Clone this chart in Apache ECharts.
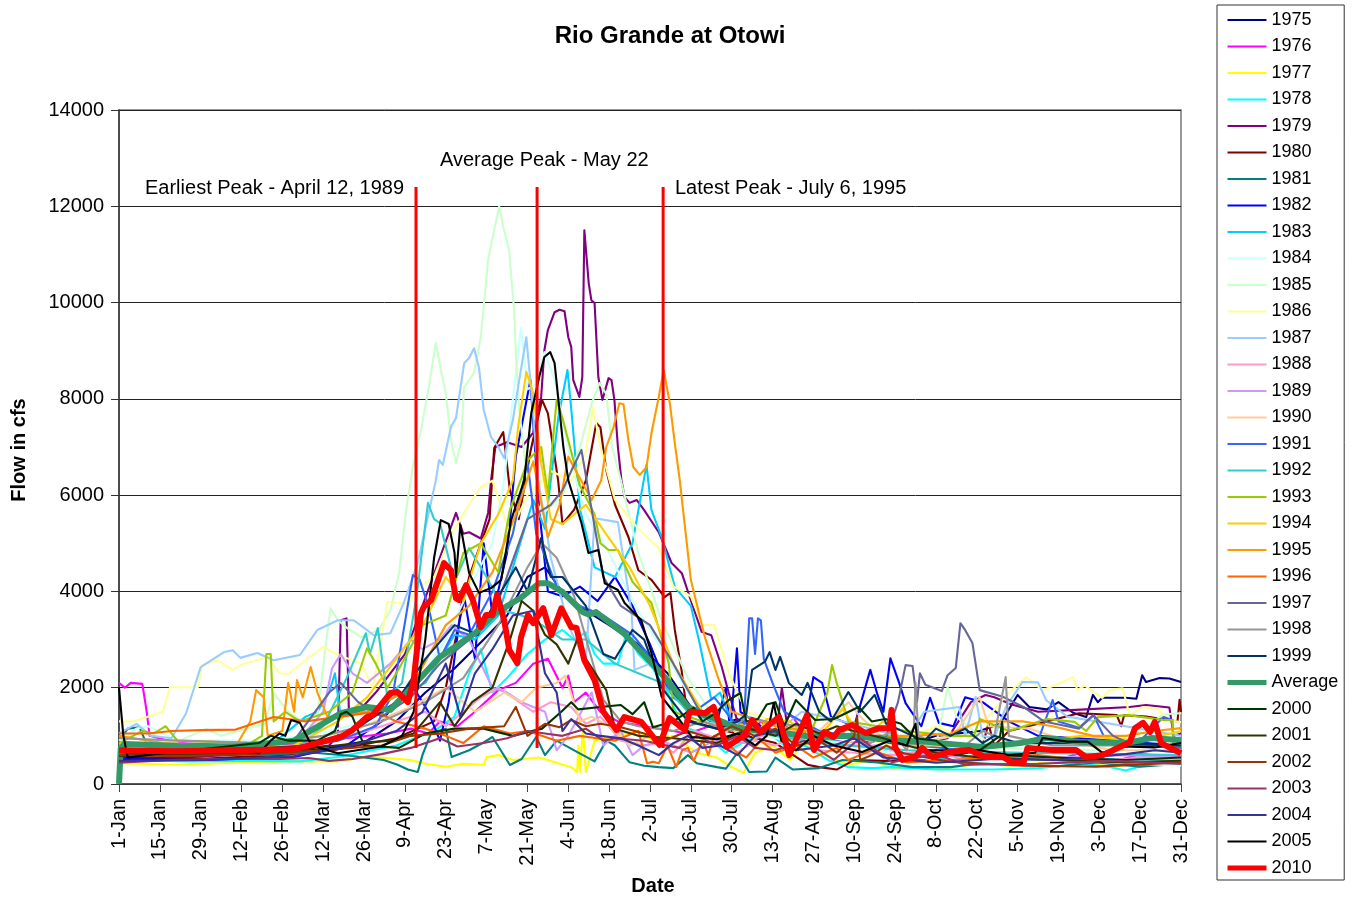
<!DOCTYPE html>
<html><head><meta charset="utf-8">
<script src="https://cdn.jsdelivr.net/npm/echarts@6/dist/echarts.min.js"></script>
<style>html,body{margin:0;background:#fff}#c{width:1353px;height:897px}</style></head>
<body><div id="c"></div>
<script>
const dateLabels=['1-Jan','15-Jan','29-Jan','12-Feb','26-Feb','12-Mar','26-Mar','9-Apr','23-Apr','7-May','21-May','4-Jun','18-Jun','2-Jul','16-Jul','30-Jul','13-Aug','27-Aug','10-Sep','24-Sep','8-Oct','22-Oct','5-Nov','19-Nov','3-Dec','17-Dec','31-Dec'];
const names=['1975','1976','1977','1978','1979','1980','1981','1982','1983','1984','1985','1986','1987','1988','1989','1990','1991','1992','1993','1994','1995','1996','1997','1998','1999','Average','2000','2001','2002','2003','2004','2005','2010'];
const colors=['#000080','#ff00ff','#ffff00','#00ffff','#800080','#800000','#008080','#0000ff','#00ccff','#ccffff','#ccffcc','#ffff99','#99ccff','#ff99cc','#cc99ff','#ffcc99','#3366ff','#33cccc','#99cc00','#ffcc00','#ff9900','#ff6600','#666699','#969696','#003366','#339966','#003300','#333300','#993300','#993366','#333399','#000000','#ff0000'];
const peakDays=[101.8,143.3,186.5];
// each series: [day of year, flow in cfs]
const s1975=[[0,650],[15,620],[30,600],[50,640],[70,720],[85,900],[95,1300],[105,1900],[115,2400],[125,3000],[133,3500],[140,4300],[146,4500],[153,3900],[160,3600],[168,3300],[178,2900],[188,2300],[196,1600],[205,1200],[212,1350],[220,1000],[228,1150],[240,900],[248,1050],[260,900],[270,800],[280,1000],[295,1100],[302,1250],[308,1850],[312,1600],[318,1550],[322,1700],[327,1480],[331.5,1390],[333.8,1850],[335.5,1700],[337,1790],[345,1790],[348.7,1770],[350.7,2260],[352,2120],[356.7,2200],[360,2190],[364,2120]];
const s1976=[[0,2100],[2,2000],[4,2100],[8,2080],[9.5,1500],[10.5,1000],[20,850],[40,800],[60,820],[78,950],[92,1050],[100,1150],[106,1050],[110,1300],[116,1200],[122,1500],[130,1950],[136,2100],[142,2500],[147,2600],[152,2000],[154,2250],[156,1700],[160,1900],[165,1500],[171,1300],[180,1200],[195,1050],[205,1250],[215,950],[220,1300],[226,1000],[230,1450],[236,1000],[250,850],[262,900],[270,600],[280,700],[290,550],[300,650],[310,600],[320,480],[330,650],[340,450],[350,620],[364,560]];
const s1977=[[0,430],[20,400],[40,440],[60,470],[75,470],[85,560],[92,540],[100,500],[105,420],[112,360],[118,420],[125,400],[126,560],[130,600],[135,500],[144,550],[155,350],[157,250],[157.5,800],[158,250],[159,1150],[160,250],[163,900],[170,1000],[178,1100],[183,900],[190,1000],[198,650],[205,550],[210,350],[214,230],[218,650],[224,800],[230,500],[235,850],[242,600],[250,400],[258,500],[265,330],[275,350],[285,340],[295,420],[305,380],[318,450],[330,450],[340,360],[350,430],[364,400]];
const s1978=[[0,500],[25,470],[45,480],[62,470],[75,560],[85,680],[95,800],[108,1100],[115,1400],[120,2300],[124,2800],[128,1900],[133,2200],[140,2700],[146,3000],[152,3200],[156,3000],[160,3150],[163,2700],[166,2500],[171,2500],[174,3150],[178,2700],[183,2400],[188,1900],[193,1200],[200,1050],[208,650],[215,900],[222,1100],[228,800],[235,800],[243,500],[250,350],[258,330],[265,350],[280,300],[300,300],[315,330],[330,420],[340,350],[345,280],[355,450],[364,500]];
const s1979=[[0,520],[25,560],[50,640],[72,800],[75,1000],[76,3400],[78,3440],[78.8,1500],[82,1500],[88,1900],[98,2700],[110,4700],[115.5,5630],[118,5200],[120,5230],[124,5100],[126.5,5630],[127.5,6300],[129,7000],[133,7100],[138,7000],[142,7300],[144.7,8040],[145.8,9010],[147,9430],[149.3,9800],[151,9850],[152.7,9820],[154,9280],[155,9080],[155.7,8390],[157.8,8040],[158.8,8450],[159.5,11500],[160,11500],[161,10400],[161.9,10050],[163,9990],[164.3,8450],[165.7,7980],[167.8,8430],[168.8,8390],[169.8,7980],[171,7000],[172.2,6310],[173.3,5960],[175,5840],[177.4,5900],[180,5690],[185,5230],[189.4,4590],[192.9,4380],[196.3,3760],[199.7,3160],[203,3090],[206.6,2430],[209,1890],[212,1300],[222,1150],[226,1400],[227.2,2000],[229,1200],[250,950],[270,800],[284,950],[292,1700],[297,1850],[300,1800],[306,1650],[315,1500],[328,1540],[346.4,1600],[352,1640],[360,1590],[361.5,1000],[364,1050]];
const s1980=[[0,550],[30,530],[55,600],[75,720],[95,950],[108,1300],[112,2000],[116,3200],[120,4300],[124,5000],[127,5500],[128.6,6980],[131.7,7310],[134,6100],[137,5500],[141,6900],[145,7980],[147,7700],[148.8,7000],[150.5,6310],[152,5400],[156,5700],[160,6300],[163.6,7500],[165,7410],[167,6520],[170,5800],[174.6,5130],[178,4440],[182.5,4240],[187,3880],[189,3970],[190.5,3200],[192.8,2370],[195,1330],[205,1150],[225,850],[236,400],[240,350],[246,300],[252,500],[262,480],[280,500],[296,800],[298,1250],[300,800],[305,1100],[315,1250],[329,1470],[342,1430],[343.5,1200],[344.5,1430],[352,1400],[360,1330],[362.8,1300],[363.5,1750],[364,1500]];
const s1981=[[0,900],[3,1150],[7,1180],[10,750],[30,650],[50,600],[65,660],[80,580],[90.7,500],[95.5,400],[99,300],[102.4,250],[104,600],[107,1060],[112,1150],[114,560],[120,700],[124,830],[128,976],[134,395],[138,520],[143,976],[146,600],[150,900],[156,700],[163,470],[167,900],[170,800],[175,450],[180,380],[185,350],[190,330],[195,600],[198,430],[205,350],[208,320],[212,650],[216,250],[222,260],[225,550],[231,300],[240,330],[248,500],[260,450],[272,350],[285,350],[295,430],[310,400],[322,370],[335,450],[350,360],[364,420]];
const s1982=[[0,520],[30,500],[60,560],[78,800],[90,1300],[100,2100],[106,1500],[110,900],[113,1700],[118,4000],[122,2600],[125,5000],[128,3500],[133,4800],[136,6800],[141,8390],[144,5700],[147,4000],[152,3900],[158,4100],[164,3800],[170,4300],[176,3700],[182,2900],[188,2000],[196,1500],[205,1300],[208,2000],[209.5,1100],[211.8,2820],[213,1500],[220,1200],[232,900],[236,1500],[238,2220],[241,2100],[244,1400],[252,1200],[257.5,2370],[260,1850],[262,1500],[264.4,2610],[267.4,2100],[269.6,1680],[275,1200],[278,1790],[281,1270],[286,1200],[290,1800],[296,1700],[305,1300],[315,1000],[340,900],[364,800]];
const s1983=[[0,700],[20,680],[50,700],[64,1400],[68,1500],[72,1900],[74,2300],[76,1400],[85,1500],[96,1850],[105,2100],[115,3100],[122,3000],[130,3500],[136,4700],[142,5900],[146,5300],[150.6,7620],[153.7,8600],[155,7800],[158,5700],[163,4500],[170,4300],[176,5000],[180.8,6630],[182.5,5690],[186,5130],[190.5,4090],[196,3700],[199,2930],[203,1750],[206,1900],[210,1300],[225,1100],[245,900],[265,650],[285,500],[310,550],[340,520],[364,500]];
const s1984=[[0,900],[6,1150],[10,1200],[20,900],[45,900],[65,1000],[85,1300],[100,1900],[112,3000],[122,4300],[128,5000],[132,6310],[135,8000],[137.8,9470],[140,8200],[143,8300],[145.8,8970],[149.3,8390],[155,6670],[160,5600],[168,4800],[176,3800],[185,2900],[195,1900],[205,1200],[225,950],[250,800],[280,500],[300,450],[325,500],[345,430],[364,380]];
const s1985=[[0,850],[20,880],[30,1150],[35,1000],[50,1250],[53,1890],[58,1500],[63,1300],[68,1450],[70.8,2850],[72.5,3650],[75,3400],[78,3250],[83,3050],[89,3200],[93,3600],[96,4380],[98.4,5690],[100.7,6580],[103.5,7350],[106.2,8250],[108.6,9160],[110.3,8600],[112,8120],[113.8,7150],[115.5,6670],[117.2,7080],[118.3,8250],[119.6,8350],[121.7,8540],[124,9280],[126.5,10880],[128.2,11400],[130.3,12000],[132,11500],[133.7,11090],[135.5,9780],[136,8950],[137.3,7700],[140,6310],[145,5600],[152,6000],[158,7000],[162,7900],[164.7,8330],[167,8100],[169,7000],[172,6310],[178,4800],[186,3400],[195,2200],[205,1300],[220,1000],[250,850],[270,700],[280,800],[284,2010],[287,1400],[300,750],[335,700],[350,1100],[358,1450],[364,1470]];
const s1986=[[0,1300],[5,1300],[15,1500],[17.5,2010],[27,2010],[28.5,2470],[33.7,2570],[39,2370],[42,2480],[51,2640],[55,2300],[58,2280],[61,2430],[70,2850],[75,2680],[83,2510],[87,2000],[90.8,3340],[92,3780],[99,3750],[103,4100],[108,4300],[114,5200],[120,5800],[124,6170],[128,6300],[134,5200],[140,6000],[148,6500],[155,6300],[160,6900],[162.5,7830],[165,7000],[170,5900],[178,5300],[185,4900],[190,4100],[196,3900],[200,3300],[204,3300],[209,2300],[215,1500],[230,1200],[250,1000],[265,800],[280,1200],[286,1050],[298,1400],[305,1900],[311,2220],[316.6,1950],[323.5,2120],[327,2220],[328.5,1950],[331,2050],[337,1790],[339.5,1950],[344,1990],[346.4,1430],[351,1600],[356,1560],[360,1330],[364,1280]];
const s1987=[[0,1050],[6,1250],[11,1000],[18,950],[23,1470],[28,2430],[36,2740],[39,2780],[41.6,2620],[47.4,2720],[53,2570],[62,2680],[68,3200],[75,3400],[80.5,3400],[87.4,3090],[93,3130],[97.6,3760],[102.4,4590],[108.6,6310],[109.7,6730],[111,6630],[113.8,7420],[115.5,7600],[118.3,8740],[120,8850],[121.7,9050],[123.4,8640],[125,7770],[127.5,7210],[130,7000],[132,6770],[135,7560],[136.8,8250],[139.6,9280],[141.3,8180],[143.7,6310],[148,4700],[154,3300],[160,2500],[163,5520],[171,5440],[175.7,3550],[176.7,2370],[182,2500],[190,2000],[200,1300],[225,1050],[234,1500],[245,1350],[270,950],[276,1500],[288,1600],[290,1000],[293.6,1810],[296,1000],[300,950],[304,1600],[309.7,2120],[315,2110],[317.8,1740],[325,1400],[345,1200],[364,1000]];
const s1988=[[0,800],[25,780],[60,800],[80,1000],[95,1300],[105,1500],[112,1200],[118,1500],[124,1800],[130,2000],[136,1750],[142,1500],[148,1700],[155,1600],[160,1250],[165,1400],[172,900],[180,800],[186,850],[190,650],[197,1100],[205,950],[212,650],[218,900],[225,800],[232,1000],[240,700],[252,650],[265,600],[278,700],[290,500],[310,600],[330,450],[350,550],[364,500]];
const s1989=[[0,700],[30,680],[60,800],[70,1500],[73,2400],[76,2700],[80,2300],[85,2100],[93,2500],[100,3000],[104,2800],[110,3000],[114,3300],[120,3000],[128,2000],[133,1900],[138,1700],[146,1500],[150,700],[154,1000],[158,1450],[162,1900],[166,800],[172,1100],[176,600],[180,800],[186,900],[196,650],[204,900],[215,850],[224,1100],[235,1000],[246,800],[260,800],[270,600],[285,600],[300,520],[320,550],[345,600],[364,550]];
const s1990=[[0,850],[30,800],[60,900],[80,1100],[100,1600],[112,2000],[122,1500],[132,1900],[138,1700],[143,2000],[150,2100],[153,2250],[158,1300],[162,1400],[168,1200],[175,800],[182,1000],[188,750],[195,1000],[202,900],[210,1150],[216,800],[222,1300],[230,1100],[240,1100],[250,1700],[254,1400],[261,1000],[268,800],[278,900],[286,1000],[295,1800],[298,1200],[312,1150],[325,900],[340,700],[364,700]];
const s1991=[[0,650],[25,620],[55,700],[75,900],[88,1200],[94,1900],[100.7,4340],[103,4250],[106,3700],[110,2600],[115,3200],[120,3100],[128,4000],[135,5200],[140,6700],[143,5200],[150,4100],[158,3700],[166,3500],[176,3100],[184,2500],[190,1800],[197,1500],[204,1800],[208,1500],[214,1000],[216,3440],[217,3440],[218,2700],[219,3440],[220,3400],[221,2600],[224,2100],[228,1500],[240,1100],[265,850],[290,700],[315,900],[320,1745],[322,1300],[329,1170],[334,1430],[337.5,1000],[341,800],[350,900],[358,1390],[361,1330],[361.5,770],[364,800]];
const s1992=[[0,650],[30,620],[62,800],[70,1200],[78,2200],[84.6,3130],[86,2700],[88.7,3240],[92,1800],[97,2100],[102,3900],[105.9,5840],[108,5500],[110,5420],[115,4200],[120,4900],[126,4300],[132,3600],[138,3500],[145,3300],[152,3000],[160,3000],[170,2500],[178,2300],[186,2100],[195,1500],[210,1150],[240,850],[270,700],[310,650],[364,600]];
const s1993=[[0,850],[8,1100],[12,1050],[16,1200],[20,900],[45,850],[49,1000],[50.5,2700],[52,2700],[53,1300],[57,1500],[62,1300],[72,1500],[80,1900],[85,2820],[88,2500],[92,2000],[96,2400],[104,3300],[112,3500],[118,4800],[124,5000],[130,4400],[134,5700],[140.2,6730],[144.7,7000],[147,6000],[150,7980],[152,7600],[158,6200],[163,5600],[165,5000],[167.8,4860],[171,4860],[176,4200],[182.5,3760],[188.4,2510],[190,1500],[205,1200],[225,1100],[238,1200],[242.8,1900],[244.4,2470],[246,2100],[250,1300],[270,1100],[285,1000],[293,1000],[295,1350],[305,1100],[318,1350],[327.5,1290],[331.5,1100],[335.5,1390],[346,1430],[358,1330],[361,1330],[361.5,850],[364,800]];
const s1994=[[0,750],[30,720],[60,800],[75,1300],[85,1800],[95,2600],[105,3400],[112,4300],[118,3800],[124,5000],[130,5600],[135,6310],[136.8,7420],[139.6,8560],[142,8120],[144.7,6670],[148,5500],[152,5400],[160,5800],[168,5100],[175,4500],[182,3700],[190,2500],[200,1500],[208,1300],[215,1200],[218,950],[222,1350],[230,1300],[238,900],[243,1200],[248,1550],[255,950],[262,1300],[270,800],[300,800],[330,1000],[350,900],[364,1100]];
const s1995=[[0,1000],[15,850],[40,780],[45,1300],[47,1950],[49.6,1800],[51,1000],[56,1100],[58,2100],[60,1500],[61,2160],[63,1800],[65.7,2430],[68,1900],[71.5,1390],[85,1500],[100,2000],[112,3300],[120,3700],[128,4400],[136,5600],[142,6700],[147,5130],[151,5800],[154,6800],[162,5900],[165.3,6310],[167,7000],[169.5,7410],[171.5,7910],[172.9,7890],[174.6,7140],[176.3,6580],[178.5,6420],[180.8,6580],[182.5,7290],[185,8040],[186.7,8600],[188.8,7910],[190.5,7080],[192.2,6310],[196,4240],[200.8,3050],[205.6,2160],[210,1500],[225,1200],[240,1050],[255,1000],[272,1000],[285,1050],[295,1300],[310,1300],[320,1200],[334,1000],[345,1000],[355,1100],[364,1160]];
const s1996=[[0,1050],[10,1050],[18,1100],[28,1120],[40,1130],[53,1390],[64,1300],[76,1400],[88,1500],[95,1300],[105,1150],[112,1000],[118,850],[125,1200],[134,1050],[140,1100],[150,900],[158,1000],[170,900],[178,1100],[181,430],[183,460],[185,430],[188,800],[191,350],[193,700],[195,750],[197,480],[200,900],[202,600],[204,1000],[207,900],[212,650],[215,550],[220,900],[225,650],[232,800],[238,550],[246,750],[250,500],[258,700],[270,450],[285,500],[300,550],[315,600],[330,500],[345,450],[364,450]];
const s1997=[[0,650],[30,620],[60,900],[72,1900],[76,2100],[82,1700],[90,1400],[100,1800],[110,2500],[120,3000],[130,3800],[140,5500],[148,5800],[152,6100],[155,6500],[158.5,6940],[162,5700],[166,4300],[172,3700],[182,3300],[190,2500],[200,1400],[220,1100],[245,1000],[263,1000],[267,1700],[269.6,2470],[272,2450],[273.5,1700],[274.5,2300],[276.4,2060],[282,1930],[284,2260],[286.8,2410],[288.4,3340],[290,3200],[292.5,2930],[295,1950],[303,1810],[310,1600],[317,1300],[325,1200],[329,1150],[334,1430],[340.7,1000],[348,800],[364,750]];
const s1998=[[0,950],[20,900],[50,850],[70,1000],[90,1300],[105,1700],[118,2200],[130,3300],[140,4500],[145,5000],[150,4700],[156,3900],[162,2600],[166,1750],[172,1300],[178,1200],[190,1100],[200,1300],[210,1100],[215,1400],[225,1250],[235,1200],[245,950],[250,1150],[256,800],[265,1100],[270,700],[272.5,1200],[273,2100],[274,1000],[282,800],[290,800],[296,1100],[300,1000],[303.9,2220],[305,1000],[320,800],[364,800]];
const s1999=[[0,700],[30,680],[65,800],[80,1100],[95,1700],[105,2600],[115,3300],[123,3100],[130,3900],[136,4500],[140,4000],[144.7,5110],[148,4300],[152,4300],[160,3700],[166,2700],[170,2600],[176,3200],[180,3000],[186,2000],[195,1300],[205,1150],[212,1300],[215,1450],[217,2370],[221.4,2540],[223,2740],[225,2370],[226.6,2640],[229.6,2100],[234,1850],[236,2100],[240,1500],[244,1300],[250,1910],[254,1500],[259,1850],[263,1250],[272,1000],[276,900],[280,1150],[285,1000],[290,1150],[296,850],[300,1000],[308,850],[330,850],[364,800]];
const sAverage=[[0,0],[0.6,750],[2,830],[20,790],[40,780],[60,900],[66,1120],[76,1470],[85,1600],[93,1540],[102,2120],[110,2640],[122,3130],[129,3550],[138,3880],[144,4170],[147,4170],[152,3990],[159,3570],[161,3520],[163.5,3570],[173,3130],[180,2680],[187,2220],[195,1600],[203,1390],[212,1160],[225,1080],[238,976],[251,1000],[266,910],[278,870],[296,770],[309,850],[318,955],[330,870],[345,850],[354,955],[364,910]];
const s2000=[[0,600],[12,640],[25,700],[40,800],[48,850],[52,1000],[58,900],[68,900],[74,1100],[76,1450],[78,1500],[80,1400],[84,800],[96,750],[105,1050],[115,1150],[125,1150],[135,1000],[145,1150],[151.6,1500],[155,1700],[157.4,1550],[165,1600],[172,1640],[176,1450],[180,1700],[183,1180],[190,1300],[197,1580],[200,1300],[204,1450],[209,1745],[213,1890],[215,1300],[219,1350],[222,1650],[225,1700],[228,1200],[232,1745],[238.6,1330],[245,1350],[253.5,1600],[258,1300],[262.6,1350],[268,1250],[273,950],[280,900],[286.7,600],[295,700],[302,1000],[302.7,1290],[303.5,600],[320,550],[345,500],[364,550]];
const s2001=[[0,580],[30,620],[60,700],[82,850],[93,900],[101,1050],[110,1700],[115,1200],[121,1700],[128,2000],[134,3000],[138,3800],[142,3600],[146,3100],[150,2900],[154,2500],[157,3000],[160,2600],[167,1950],[170,1150],[178,1000],[190,950],[205,850],[216,1150],[225,1000],[232,1250],[240,1050],[246,1200],[252,1100],[262,950],[270,800],[280,650],[295,550],[320,500],[345,450],[364,480]];
const s2002=[[0,600],[20,580],[45,620],[70,700],[90,800],[100,1000],[110,1050],[120,1150],[132,1200],[136,1600],[140,1000],[146,1250],[151,1180],[155,1330],[160,1200],[165,1250],[172,1180],[180,1050],[187,900],[195,1100],[203,950],[210,1200],[218,1000],[225,1150],[232,800],[240,900],[246,650],[252,1000],[253,1390],[254,500],[258,600],[263,800],[268,650],[285,460],[310,380],[335,360],[364,450]];
const s2003=[[0,440],[18,500],[35,520],[55,520],[65,540],[72,480],[80,520],[90,620],[100,750],[110,950],[116,780],[125,850],[133,950],[140,1100],[146,1050],[152,1000],[160,1150],[166,900],[170,950],[180,900],[186,820],[192,750],[198,1000],[205,800],[212,1000],[218,750],[225,700],[235,900],[245,500],[254,950],[265,450],[280,620],[290,400],[315,420],[340,480],[364,420]];
const s2004=[[0,480],[30,500],[60,580],[80,800],[95,1100],[104,1500],[112,2500],[117,1400],[122,2300],[128,2800],[135,3500],[142,3600],[146,2300],[150,1900],[152,1100],[155,1350],[160,1050],[165,1000],[172,950],[178,800],[185,600],[190,850],[195,1000],[200,750],[206,800],[212,600],[218,1000],[225,1100],[232,700],[245,800],[252,950],[262,550],[280,440],[300,520],[322,500],[345,620],[355,700],[364,650]];
const s2005=[[0,2000],[1.5,1000],[3,550],[15,640],[22,680],[34,700],[38,700],[48,640],[52,900],[55,1050],[57,1000],[59,1330],[62,1270],[66,800],[75,640],[90,780],[97,1000],[101,1500],[105,3000],[108,4700],[110.3,5480],[113,5400],[115,4800],[115.5,4300],[117,5380],[120,4380],[123.4,3970],[127.5,4070],[131,4240],[134.4,5480],[138.9,6310],[141.3,7700],[144,8450],[145.8,8870],[147.8,8970],[149.3,8740],[150.5,8040],[152.3,7000],[154,6310],[158.5,5420],[160.9,4800],[164.3,4860],[166.5,4170],[171,4030],[173.3,3760],[179,3400],[182.5,2720],[186,1810],[190.5,1470],[196.3,976],[205,930],[212,1050],[218,800],[222,1000],[224.4,1680],[227,900],[232,700],[238,1000],[245,800],[254.7,665],[264,900],[270,800],[273,1250],[274,700],[295,700],[305,600],[314,650],[316.6,955],[325,880],[332,880],[337,650],[344,780],[355,760],[364,850]];
const s2010=[[0,700],[6,690],[20,680],[40,700],[60,720],[70,880],[76,976],[80,1120],[85,1390],[87,1430],[93,1890],[95.5,1910],[99,1700],[101,2160],[103.5,3550],[104.5,3680],[107,3820],[111.4,4590],[113.8,4440],[115.5,3860],[116.5,3820],[119,4130],[121.3,3820],[124,3260],[125.8,3510],[128,3510],[129.6,3930],[132,3400],[133.8,2780],[136.5,2510],[137.8,3050],[140.2,3510],[142,3340],[145.4,3650],[148.2,3090],[151.6,3650],[155,3260],[156.8,3240],[159.5,2570],[163,2160],[166,1500],[170.5,1120],[173.2,1390],[179,1290],[185.3,810],[188.7,1370],[194,1120],[195.6,1500],[200.8,1470],[203.8,1600],[208.3,770],[214.5,1020],[217,1330],[219.7,1080],[226.2,1390],[229.7,600],[235.8,1430],[238.2,706],[241.7,1080],[245,976],[246.8,1120],[251.3,1225],[255.8,1060],[260.5,1160],[264,1160],[264.8,1540],[266,770],[268.5,500],[273,560],[275.3,750],[278.8,560],[284.6,665],[291.5,706],[297,560],[303,560],[306.3,436],[310,436],[311.4,750],[320,706],[328,706],[331.4,560],[337.2,600],[343,770],[346.5,870],[348.2,1160],[351,1270],[353.4,1080],[355,1290],[357.2,850],[360.3,750],[364,640]];
const seriesData=[s1975,s1976,s1977,s1978,s1979,s1980,s1981,s1982,s1983,s1984,s1985,s1986,s1987,s1988,s1989,s1990,s1991,s1992,s1993,s1994,s1995,s1996,s1997,s1998,s1999,sAverage,s2000,s2001,s2002,s2003,s2004,s2005,s2010];
const font='"Liberation Sans",Arial,sans-serif';
const widthOf=n=>n==='Average'||n==='2010'?6:2.1;
const series=names.map((n,i)=>({name:n,type:'line',data:seriesData[i],symbol:'none',showSymbol:false,smooth:false,
  lineStyle:{color:colors[i],width:widthOf(n),join:'round'},itemStyle:{color:colors[i]},z:2+i*0.01,silent:true,animation:false}));
peakDays.forEach((d,i)=>series.splice(series.length-1,0,{name:'peak'+i,type:'line',data:[[d,750],[d,12400]],symbol:'none',lineStyle:{color:'#ff0000',width:3},itemStyle:{color:'#ff0000'},z:2.5,silent:true}));
const chart=echarts.init(document.getElementById('c'),null,{renderer:'canvas'});
chart.setOption({
  animation:false,backgroundColor:'#fff',
  title:{text:'Rio Grande at Otowi',left:665,top:19,textAlign:'center',textStyle:{fontFamily:font,fontSize:24,fontWeight:'bold',color:'#000'}},
  grid:{left:119,top:110,right:172,bottom:113,outerBoundsMode:'none',show:true,borderColor:'#777',borderWidth:1.5,backgroundColor:'#fff'},
  legend:{data:names.map(n=>({name:n,lineStyle:{width:n==='Average'||n==='2010'?5:2}})),orient:'vertical',left:1217,top:5,padding:[6,6,3,8],itemWidth:39,itemHeight:14,itemGap:8.5,backgroundColor:'#fff',borderColor:'#333',borderWidth:1,borderRadius:0,selectedMode:false,
    itemStyle:{color:'rgba(0,0,0,0)',borderColor:'rgba(0,0,0,0)',borderWidth:0},
    textStyle:{fontFamily:font,fontSize:18,color:'#000',padding:[0,0,0,0]}},
  xAxis:{type:'value',min:0,max:364,interval:14,
    name:'Date',nameLocation:'middle',nameGap:92,nameTextStyle:{fontFamily:font,fontSize:20,fontWeight:'bold',color:'#000',padding:[0,0,0,6]},
    axisLine:{onZero:false,lineStyle:{color:'#444',width:1.5}},axisTick:{length:8,lineStyle:{color:'#444'}},splitLine:{show:false},
    axisLabel:{rotate:90,margin:15,fontFamily:font,fontSize:20,color:'#000',hideOverlap:false,showMinLabel:true,showMaxLabel:true,formatter:v=>dateLabels[Math.round(v/14)]}},
  yAxis:{type:'value',min:0,max:14000,interval:2000,
    name:'Flow in cfs',nameLocation:'middle',nameGap:90,nameTextStyle:{fontFamily:font,fontSize:20,fontWeight:'bold',color:'#000',padding:[0,6,0,0]},
    axisLine:{lineStyle:{color:'#333',width:1.5}},axisTick:{length:8,lineStyle:{color:'#333'}},
    splitLine:{lineStyle:{color:'#222',width:1}},
    axisLabel:{margin:15,fontFamily:font,fontSize:20,color:'#000',formatter:v=>String(v)}},
  graphic:[
    {type:'text',left:145,top:178,style:{text:'Earliest Peak - April 12, 1989',fontFamily:font,fontSize:20,fill:'#000'}},
    {type:'text',left:440,top:150,style:{text:'Average Peak - May 22',fontFamily:font,fontSize:20,fill:'#000'}},
    {type:'text',left:675,top:178,style:{text:'Latest Peak - July 6, 1995',fontFamily:font,fontSize:20,fill:'#000'}}
  ],
  series
});
</script></body></html>
